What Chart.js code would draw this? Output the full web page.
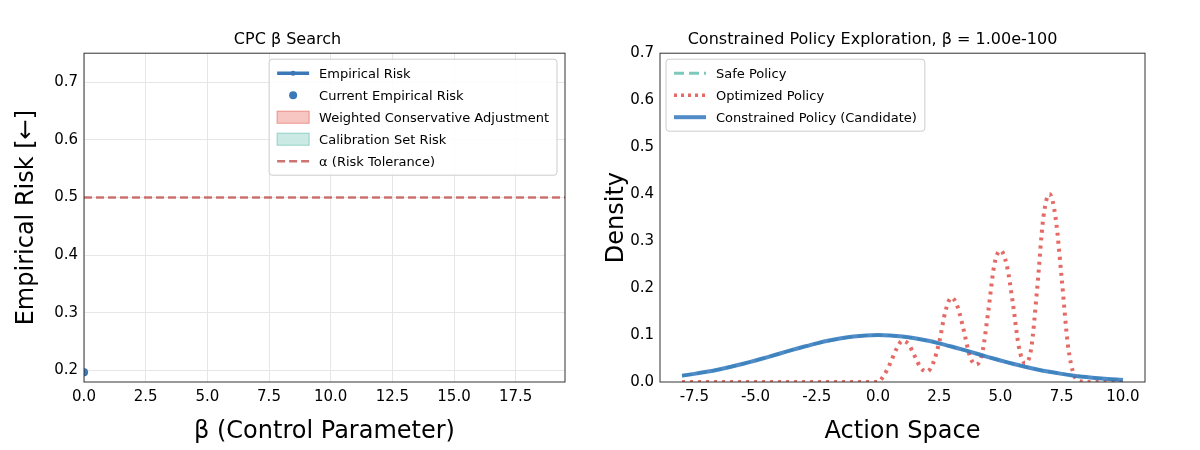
<!DOCTYPE html>
<html>
<head>
<meta charset="utf-8">
<script src="https://cdn.jsdelivr.net/npm/chart.js@4.4.0/dist/chart.umd.min.js"></script>
<style>
  body { margin: 0; background: #fff; }
  .box { position: absolute; top: 0; width: 600px; height: 450px; }
</style>
</head>
<body>
<div class="box" style="left:0"><canvas id="left" width="600" height="450"></canvas></div>
<div class="box" style="left:600px"><canvas id="right" width="600" height="450"></canvas></div>
<script>
"use strict";
// left panel data
const betaCurrent = [{ x: 0, y: 0.197 }];
const alphaLevel = 0.5;
const leftXTicks = [0, 2.5, 5, 7.5, 10, 12.5, 15, 17.5];
const leftYTicks = [0.2, 0.3, 0.4, 0.5, 0.6, 0.7];

// right panel data
const actionX = [-8, -7.5, -7, -6.5, -6, -5.5, -5, -4.5, -4, -3.5, -3, -2.5, -2, -1.5, -1, -0.5, 0,
    0.5, 1, 1.5, 2, 2.5, 3, 3.5, 4, 4.5, 5, 5.5, 6, 6.5, 7, 7.5, 8, 8.5, 9, 9.5, 10];
const constrainedDensity = [0.0135, 0.0173, 0.0217, 0.0267, 0.0325, 0.0389, 0.0458, 0.0531, 0.0607, 0.0683, 0.0755, 0.0823, 0.0882, 0.0932, 0.0969, 0.0992, 0.1,
    0.0992, 0.0969, 0.0932, 0.0882, 0.0823, 0.0755, 0.0683, 0.0607, 0.0531, 0.0458, 0.0389, 0.0325, 0.0267, 0.0217, 0.0173, 0.0135, 0.0105, 0.008, 0.006, 0.0044];
const safeDensity = [0.0135, 0.0172, 0.0216, 0.0266, 0.0324, 0.0388, 0.0457, 0.053, 0.0605, 0.068, 0.0752, 0.082, 0.0878, 0.0928, 0.0965, 0.0988, 0.0996,
    0.0988, 0.0965, 0.0928, 0.0878, 0.082, 0.0752, 0.068, 0.0605, 0.053, 0.0457, 0.0388, 0.0324, 0.0266, 0.0216, 0.0172, 0.0135, 0.0105, 0.008, 0.006, 0.0044];
const optimizedX = [-8, -7, -6, -5, -4, -3, -2, -1, 0, 0.25, 0.5, 0.75, 1, 1.25, 1.5, 1.75, 2, 2.25, 2.5, 2.75, 3, 3.25, 3.5, 3.75, 4,
    4.25, 4.5, 4.75, 5, 5.25, 5.5, 5.75, 6, 6.25, 6.5, 6.75, 7, 7.25, 7.5, 7.75, 8, 8.25, 8.5, 9, 9.5, 10];
const optimizedDensity = [0, 0, 0, 0, 0, 0, 0, 0, 0, 0.015, 0.04, 0.07, 0.088, 0.08, 0.055, 0.03, 0.022, 0.04, 0.085, 0.15, 0.18, 0.16, 0.11, 0.055, 0.037,
    0.06, 0.15, 0.25, 0.28, 0.25, 0.17, 0.075, 0.04, 0.07, 0.2, 0.35, 0.4, 0.35, 0.22, 0.08, 0.015, 0.002, 0, 0, 0, 0];
const rightXTicks = [-7.5, -5, -2.5, 0, 2.5, 5, 7.5, 10];
const rightYTicks = [0, 0.1, 0.2, 0.3, 0.4, 0.5, 0.6, 0.7];

const FONT = "'DejaVu Sans', sans-serif";
Chart.defaults.font.family = FONT;
Chart.defaults.color = "#000";
Chart.defaults.animation = false;

function pts(xs, ys) { return xs.map((x, i) => ({ x: x, y: ys[i] })); }

// legend drawn inside the plot area, matplotlib style
const boxLegend = {
    id: "boxLegend",
    afterDraw(chart, args, opts) {
        const ctx = chart.ctx;
        const a = chart.chartArea;
        const items = opts.items;
        ctx.save();
        ctx.font = "13px " + FONT;
        let w = 0;
        items.forEach(it => { w = Math.max(w, ctx.measureText(it.text).width); });
        const rowH = 22, bw = w + 58, bh = items.length * rowH + 6;
        const x0 = opts.align === "left" ? a.left + 6 : a.right - bw - 8;
        const y0 = a.top + 6;
        ctx.fillStyle = "rgba(255,255,255,0.85)";
        ctx.strokeStyle = "#ccc";
        ctx.lineWidth = 1;
        ctx.beginPath();
        ctx.roundRect(x0, y0, bw, bh, 3);
        ctx.fill();
        ctx.stroke();
        items.forEach((it, i) => {
            const cy = y0 + 3 + rowH * i + rowH / 2;
            const lx = x0 + 8;
            if (it.kind === "line") {
                ctx.strokeStyle = it.color;
                ctx.lineWidth = it.width;
                ctx.setLineDash(it.dash || []);
                ctx.beginPath();
                ctx.moveTo(lx, cy);
                ctx.lineTo(lx + 32, cy);
                ctx.stroke();
                ctx.setLineDash([]);
                if (it.dot) {
                    ctx.fillStyle = it.color;
                    ctx.beginPath();
                    ctx.arc(lx + 16, cy, 2.5, 0, Math.PI * 2);
                    ctx.fill();
                }
            } else if (it.kind === "point") {
                ctx.fillStyle = it.color;
                ctx.beginPath();
                ctx.arc(lx + 16, cy, 4, 0, Math.PI * 2);
                ctx.fill();
            } else {
                ctx.fillStyle = it.fill;
                ctx.strokeStyle = it.color;
                ctx.lineWidth = 1;
                ctx.fillRect(lx, cy - 6, 32, 12);
                ctx.strokeRect(lx, cy - 6, 32, 12);
            }
            ctx.fillStyle = "#000";
            ctx.textBaseline = "middle";
            ctx.fillText(it.text, lx + 42, cy + 1);
        });
        ctx.restore();
    }
};

// full frame around the plot area
const frame = {
    id: "frame",
    afterDatasetsDraw(chart) {
        const a = chart.chartArea, ctx = chart.ctx;
        ctx.save();
        ctx.strokeStyle = "#333";
        ctx.lineWidth = 1;
        ctx.strokeRect(a.left, a.top, a.right - a.left, a.bottom - a.top);
        ctx.restore();
    }
};

function axis(min, max, ticks, title, grid, digits, yAxis, width) {
    return {
        type: "linear", min: min, max: max,
        afterBuildTicks: s => { s.ticks = ticks.map(v => ({ value: v })); },
        afterFit: s => { if (yAxis) s.width = width; else s.height = width; },
        grid: { display: grid, color: "#e6e6e6", drawTicks: false, tickLength: 0 },
        border: { display: false },
        ticks: { font: { size: 15 }, padding: 6, maxRotation: 0, minRotation: 0, autoSkip: false, callback: v => v.toFixed(digits) },
        title: { display: true, text: title, font: { size: 24 }, padding: { top: 2, bottom: 4 } }
    };
}

new Chart(document.getElementById("left"), {
    type: "scatter",
    data: {
        datasets: [
            { data: betaCurrent, backgroundColor: "#3a78b8", pointRadius: 4 },
            { data: [{ x: 0, y: alphaLevel }, { x: 19.5, y: alphaLevel }], showLine: true, borderColor: "rgba(192,80,77,0.8)",
              borderWidth: 2.5, borderDash: [8, 4], pointRadius: 0 }
        ]
    },
    options: {
        responsive: false,
        layout: { padding: { left: 10, right: 35, top: 0, bottom: 0 } },
        plugins: {
            legend: { display: false },
            tooltip: { enabled: false },
            title: { display: true, text: "CPC β Search", font: { size: 16, weight: "normal" }, padding: { top: 30, bottom: 4 } },
            boxLegend: { align: "right", items: [
                { kind: "line", text: "Empirical Risk", color: "#3a78b8", width: 3.5, dot: true },
                { kind: "point", text: "Current Empirical Risk", color: "#3a78b8" },
                { kind: "patch", text: "Weighted Conservative Adjustment", fill: "rgba(240,128,120,0.45)", color: "rgba(230,110,100,0.7)" },
                { kind: "patch", text: "Calibration Set Risk", fill: "rgba(110,195,180,0.35)", color: "rgba(110,195,180,0.7)" },
                { kind: "line", text: "α (Risk Tolerance)", color: "rgba(192,80,77,0.8)", width: 2.5, dash: [8, 4] }
            ] }
        },
        scales: {
            x: axis(0, 19.5, leftXTicks, "β (Control Parameter)", true, 1, false, 68),
            y: axis(0.18, 0.75, leftYTicks, "Empirical Risk [←]", true, 1, true, 74)
        }
    },
    plugins: [frame, boxLegend]
});

new Chart(document.getElementById("right"), {
    type: "scatter",
    data: {
        datasets: [
            { data: pts(actionX, safeDensity), showLine: true, borderColor: "rgba(110,195,180,0.9)", borderWidth: 3, borderDash: [10, 5], pointRadius: 0, order: 2 },
            { data: pts(optimizedX, optimizedDensity), showLine: true, borderColor: "rgba(225,80,75,0.85)", borderWidth: 4, borderDash: [3, 5],
              pointRadius: 0, cubicInterpolationMode: "monotone", order: 1 },
            { data: pts(actionX, constrainedDensity), showLine: true, borderColor: "rgba(50,120,190,0.85)", borderWidth: 4, pointRadius: 0, tension: 0.3, order: 0 }
        ]
    },
    options: {
        responsive: false,
        layout: { padding: { left: 0, right: 55, top: 0, bottom: 0 } },
        plugins: {
            legend: { display: false },
            tooltip: { enabled: false },
            title: { display: true, text: "Constrained Policy Exploration, β = 1.00e-100", font: { size: 16, weight: "normal" }, padding: { top: 30, bottom: 4 } },
            boxLegend: { align: "left", items: [
                { kind: "line", text: "Safe Policy", color: "rgba(110,195,180,0.9)", width: 3, dash: [10, 5] },
                { kind: "line", text: "Optimized Policy", color: "rgba(225,80,75,0.85)", width: 3.5, dash: [3, 4] },
                { kind: "line", text: "Constrained Policy (Candidate)", color: "rgba(50,120,190,0.85)", width: 4 }
            ] }
        },
        scales: {
            x: axis(-8.9, 10.9, rightXTicks, "Action Space", false, 1, false, 68),
            y: axis(0, 0.7, rightYTicks, "Density", false, 1, true, 60)
        }
    },
    plugins: [frame, boxLegend]
});
</script>
</body>
</html>
